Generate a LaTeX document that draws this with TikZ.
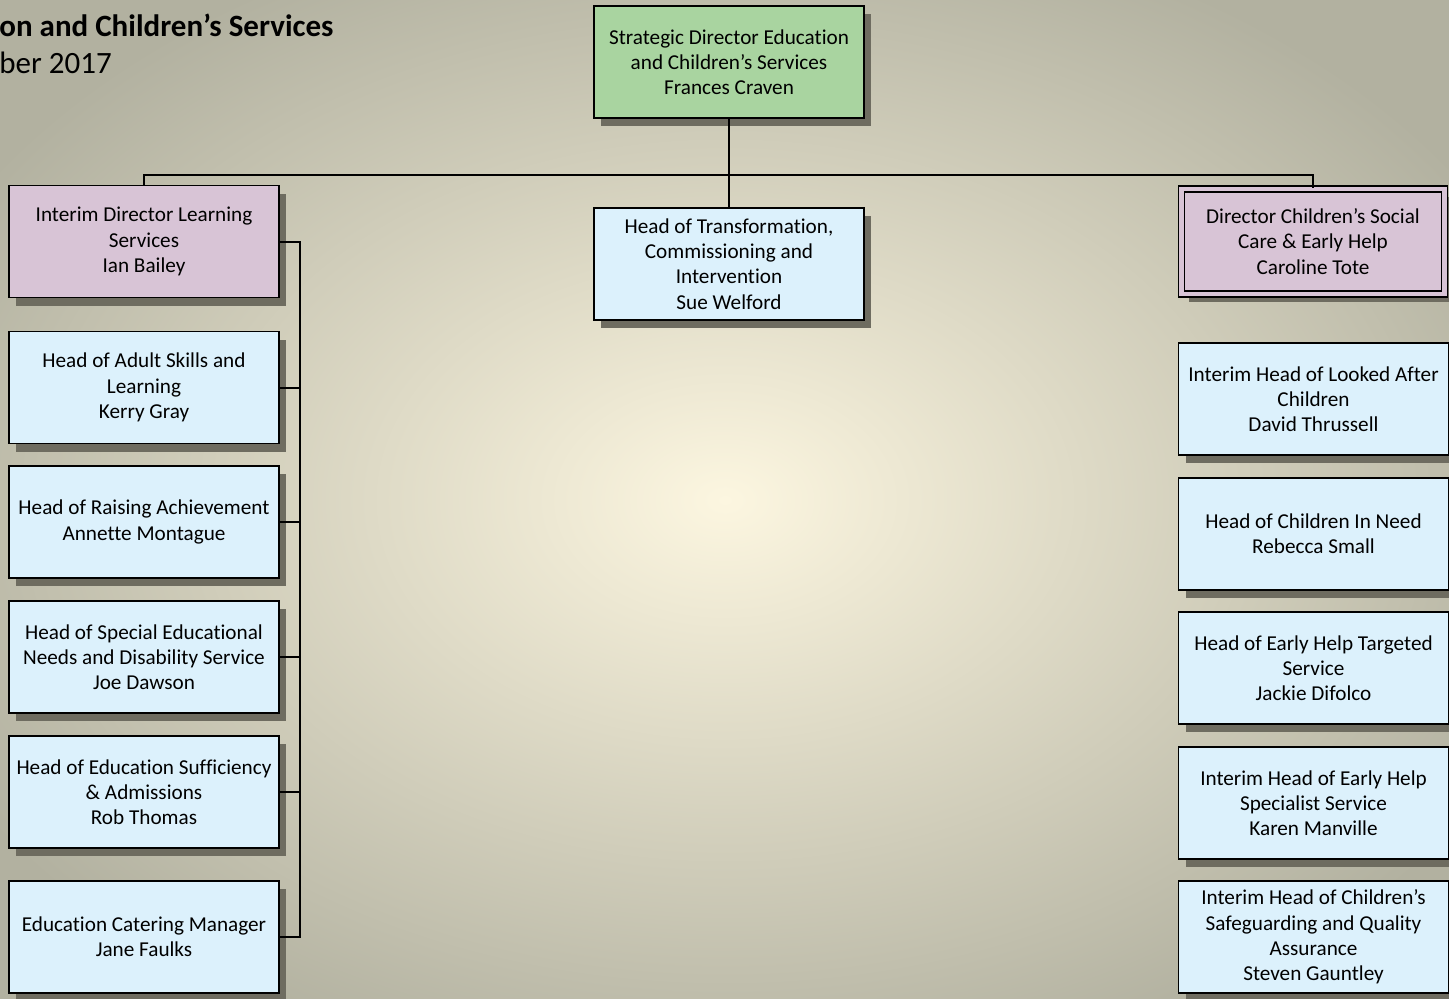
\documentclass[tikz,border=0pt]{standalone}
\usepackage{fontspec}
\setmainfont[Ligatures={NoCommon}]{Carlito}
\usetikzlibrary{shadows}
\definecolor{bgin}{RGB}{252,246,224}
\definecolor{bgout}{RGB}{178,177,160}
\definecolor{greenbox}{RGB}{169,212,160}
\definecolor{pinkbox}{RGB}{216,196,214}
\definecolor{bluebox}{RGB}{220,241,252}
\definecolor{shadowgray}{RGB}{110,108,96}
\tikzset{
  orgbox/.style={draw=black, line width=0.9pt, align=center,
    minimum width=135pt, minimum height=56pt, inner sep=1pt,
    font=\fontsize{10.6}{12.6}\selectfont,
    drop shadow={shadow xshift=3.6pt, shadow yshift=-4pt, fill=shadowgray, opacity=1}},
  bluestyle/.style={orgbox, fill=bluebox},
  pinkstyle/.style={orgbox, fill=pinkbox},
  greenstyle/.style={orgbox, fill=greenbox},
  wire/.style={draw=black, line width=1pt},
}
\begin{document}
\begin{tikzpicture}[x=0.5pt, y=-0.5pt]
\useasboundingbox (0,0) rectangle (1449,998);
\shade[inner color=bgin, outer color=bgout] (-150,-100) rectangle (1600,1100);

\node[anchor=base west, font=\fontsize{15.5}{18}\selectfont\bfseries, inner sep=0pt] (title) at (-1,36) {on and Children’s Services};
\node[anchor=base west, font=\fontsize{15.5}{18}\selectfont, inner sep=0pt] (date) at (-1,73) {ber 2017};

\node[greenstyle] (top) at (729,62) {Strategic Director Education\\and Children’s Services\\Frances Craven};
\node[bluestyle] (mid) at (729,264) {Head of Transformation,\\Commissioning and\\Intervention\\Sue Welford};

\node[pinkstyle] (ld) at (144,241.5) {Interim Director Learning\\Services\\Ian Bailey};
\node[pinkstyle, line width=0.75pt, double=pinkbox, double distance=2.2pt,
      minimum width=131.5pt, minimum height=52.5pt] (rd) at (1313,241.5) {Director Children’s Social\\Care \& Early Help\\Caroline Tote};

\node[bluestyle] (l1) at (144,387.5) {Head of Adult Skills and\\Learning\\Kerry Gray};
\node[bluestyle] (l2) at (144,522) {Head of Raising Achievement\\Annette Montague};
\node[bluestyle] (l3) at (144,657) {Head of Special Educational\\Needs and Disability Service\\Joe Dawson};
\node[bluestyle] (l4) at (144,792) {Head of Education Sufficiency\\\& Admissions\\Rob Thomas};
\node[bluestyle] (l5) at (144,937) {Education Catering Manager\\Jane Faulks};

\node[bluestyle] (r1) at (1313.5,399) {Interim Head of Looked After\\Children\\David Thrussell};
\node[bluestyle] (r2) at (1313.5,534) {Head of Children In Need\\Rebecca Small};
\node[bluestyle] (r3) at (1313.5,668) {Head of Early Help Targeted\\Service\\Jackie Difolco};
\node[bluestyle] (r4) at (1313.5,803) {Interim Head of Early Help\\Specialist Service\\Karen Manville};
\node[bluestyle] (r5) at (1313.5,937) {Interim Head of Children’s\\Safeguarding and Quality\\Assurance\\Steven Gauntley};

\coordinate (spine) at (300,0);
\coordinate (bus) at (0,175);
\draw[wire] (top.south) -- (mid.north);
\draw[wire] (ld.north) -- (ld.north |- bus) -| (rd.north);
\draw[wire] (ld.east) -- (ld.east -| spine) |- (l5.east);
\foreach \n in {l1,l2,l3,l4}{
  \draw[wire] (\n.east) -- (\n.east -| spine);
}
\end{tikzpicture}
\end{document}
